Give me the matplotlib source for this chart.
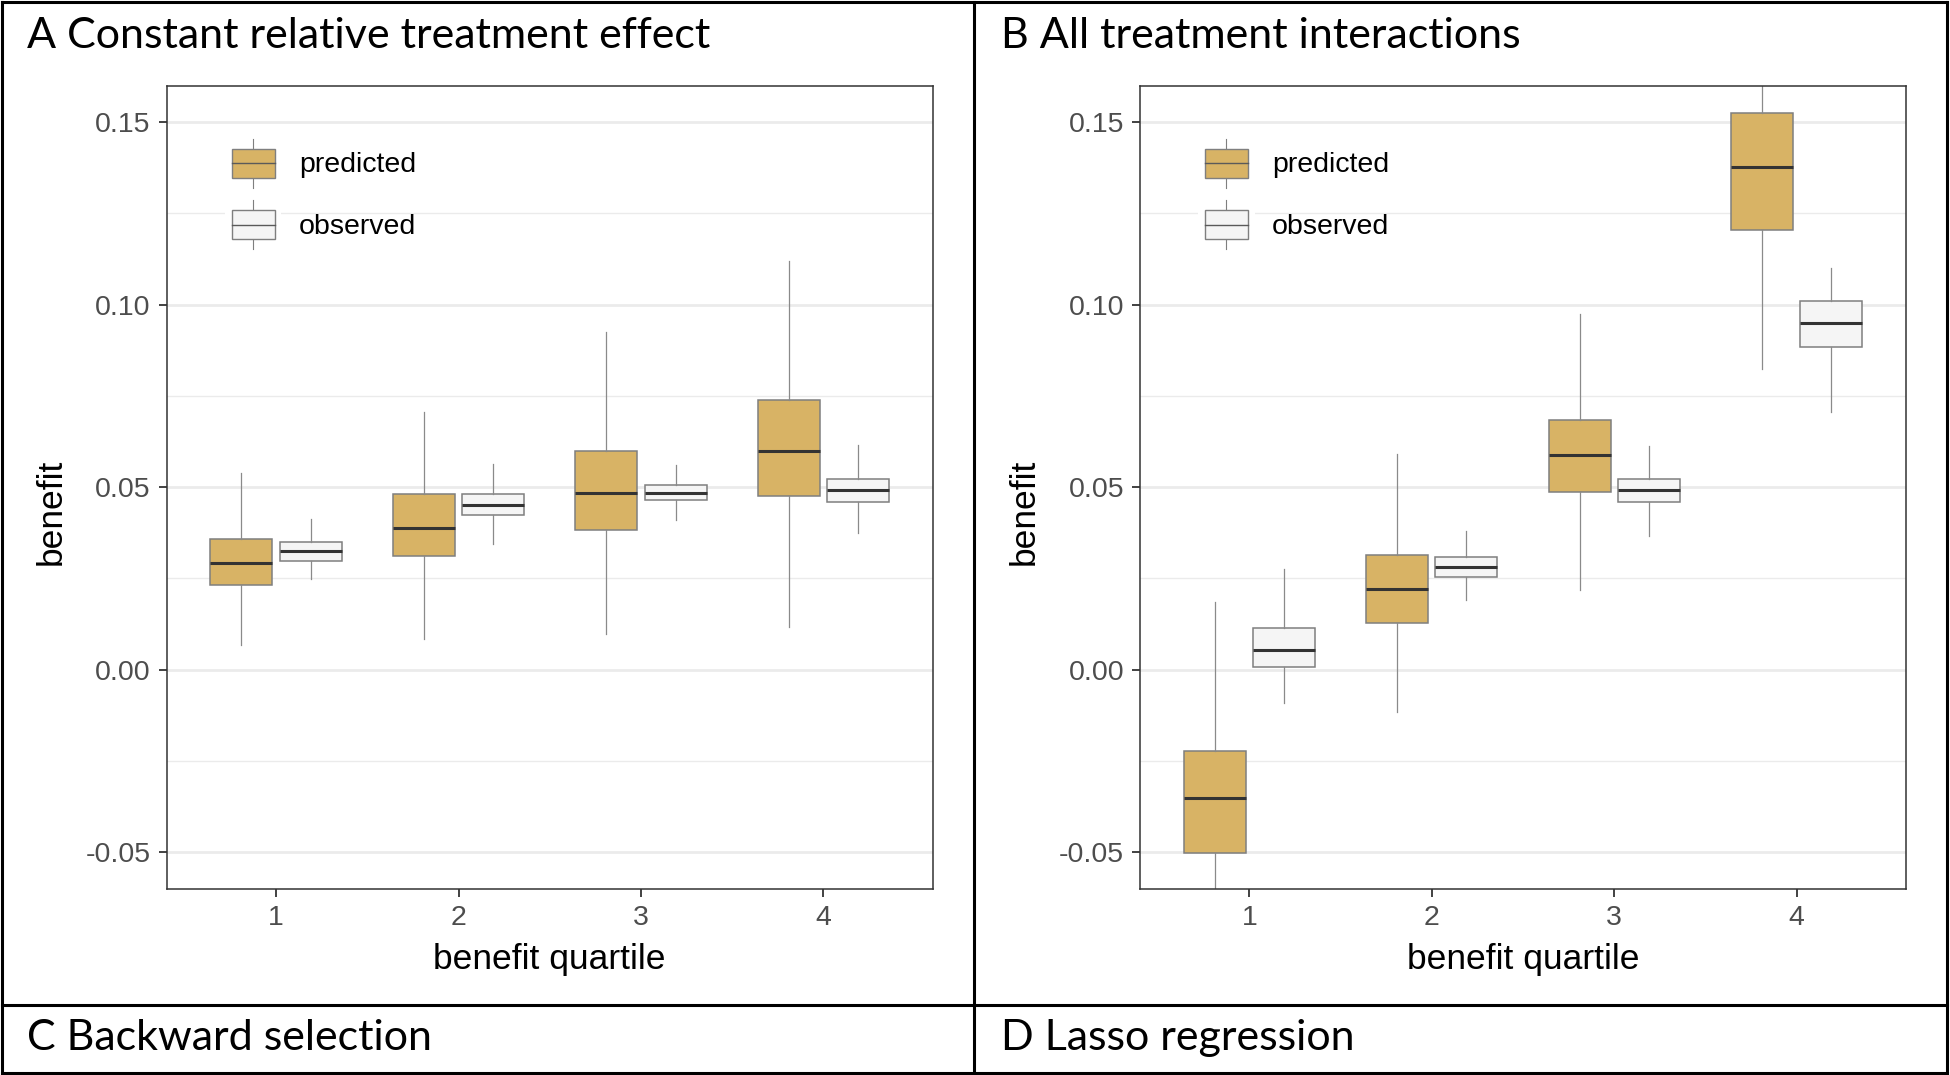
import matplotlib
matplotlib.use("Agg")
import matplotlib.pyplot as plt
from matplotlib.lines import Line2D
from matplotlib.patches import Rectangle, Patch
from matplotlib.legend_handler import HandlerBase
from matplotlib.ticker import FormatStrFormatter

quartiles = [1, 2, 3, 4]
series_names = ["predicted", "observed"]
panel_titles = ["A Constant relative treatment effect", "B All treatment interactions",
                "C Backward selection", "D Lasso regression"]

# each row: [whisker low, q1, median, q3, whisker high] for quartile 1..4
a_predicted = [[0.0067, 0.0232, 0.0292, 0.0358, 0.0540],
               [0.0083, 0.0312, 0.0389, 0.0480, 0.0706],
               [0.0098, 0.0382, 0.0483, 0.0599, 0.0925],
               [0.0117, 0.0477, 0.0598, 0.0739, 0.1119]]
a_observed = [[0.0248, 0.0299, 0.0326, 0.0350, 0.0413],
              [0.0343, 0.0425, 0.0450, 0.0481, 0.0563],
              [0.0411, 0.0466, 0.0485, 0.0506, 0.0561],
              [0.0374, 0.0459, 0.0492, 0.0522, 0.0615]]
b_predicted = [[-0.0680, -0.0503, -0.0353, -0.0223, 0.0185],
               [-0.0117, 0.0127, 0.0221, 0.0315, 0.0592],
               [0.0217, 0.0487, 0.0587, 0.0684, 0.0973],
               [0.0825, 0.1205, 0.1377, 0.1524, 0.1720]]
b_observed = [[-0.0092, 0.0006, 0.0054, 0.0115, 0.0277],
              [0.0190, 0.0254, 0.0280, 0.0308, 0.0379],
              [0.0365, 0.0458, 0.0493, 0.0522, 0.0613],
              [0.0706, 0.0883, 0.0951, 0.1009, 0.1100]]

tan = "#D8B365"
light = "#F5F5F5"
edge = "#7f7f7f"

plt.rcParams["font.family"] = ["Liberation Sans", "DejaVu Sans"]

W, H = 1950, 1075
fig = plt.figure(figsize=(W / 100, H / 100), dpi=100)


def px(x, y):
    return x / W, 1 - y / H


class BoxHandler(HandlerBase):
    # draws a little boxplot glyph like the ggplot legend key
    def create_artists(self, legend, orig_handle, xdescent, ydescent,
                       width, height, fontsize, trans):
        x0, y0 = -xdescent, -ydescent
        cx, cy = x0 + width / 2, y0 + height / 2
        bh = height * 0.6
        bg = Rectangle((x0 - 5, y0 - 2), width + 10, height + 4,
                       facecolor="white", edgecolor="none", transform=trans)
        box = Rectangle((x0, cy - bh / 2), width, bh, facecolor=orig_handle.get_facecolor(),
                        edgecolor=edge, lw=1.0, transform=trans)
        med = Line2D([x0, x0 + width], [cy, cy], color="#5a5a5a", lw=1.0, transform=trans)
        w1 = Line2D([cx, cx], [y0, cy - bh / 2], color=edge, lw=0.8, transform=trans)
        w2 = Line2D([cx, cx], [cy + bh / 2, y0 + height], color=edge, lw=0.8, transform=trans)
        return [bg, w1, w2, box, med]


def stats(rows):
    return [dict(whislo=r[0], q1=r[1], med=r[2], q3=r[3], whishi=r[4], fliers=[]) for r in rows]


def draw_panel(ax, predicted, observed):
    for rows, color, shift in ((predicted, tan, -0.19), (observed, light, 0.19)):
        ax.bxp(stats(rows), positions=[q + shift for q in quartiles], widths=0.34,
               patch_artist=True, showcaps=False, showfliers=False, manage_ticks=False,
               boxprops=dict(facecolor=color, edgecolor=edge, linewidth=1.1),
               medianprops=dict(color="#333333", linewidth=2.2, solid_capstyle="butt"),
               whiskerprops=dict(color="#8a8a8a", linewidth=0.9))
    ax.set_xlim(0.40, 4.60)
    ax.set_ylim(-0.0601, 0.1599)
    ax.set_xticks(quartiles)
    ax.set_yticks([-0.05, 0.0, 0.05, 0.10, 0.15])
    ax.set_yticks([-0.025, 0.025, 0.075, 0.125], minor=True)
    ax.yaxis.set_major_formatter(FormatStrFormatter("%.2f"))
    ax.set_axisbelow(True)
    ax.grid(axis="y", which="major", color="#EBEBEB", lw=2.0)
    ax.grid(axis="y", which="minor", color="#EBEBEB", lw=1.0)
    ax.grid(axis="x", visible=False)
    for s in ax.spines.values():
        s.set_color("#333333")
        s.set_linewidth(1.1)
    ax.tick_params(which="major", length=5.5, width=1.3, color="#333333",
                   labelcolor="#4D4D4D", labelsize=20.5, pad=6)
    ax.tick_params(which="minor", length=0)
    ax.set_xlabel("benefit quartile", fontsize=25.5, labelpad=9)
    ax.set_ylabel("benefit", fontsize=25.5)
    ax.yaxis.set_label_coords(-0.151, 0.47)
    ax.yaxis.label.set_verticalalignment("center")
    handles = [Patch(facecolor=tan), Patch(facecolor=light)]
    ax.legend(handles, series_names, handler_map={Patch: BoxHandler()},
              loc="upper left", bbox_to_anchor=(0.085, 0.934), frameon=False,
              fontsize=20.5, handlelength=1.5, handleheight=2.25, labelspacing=0.45,
              handletextpad=0.85, borderpad=0, borderaxespad=0)


ax_a = fig.add_axes([166.7 / W, 1 - 889 / H, 766 / W, 803 / H])
ax_b = fig.add_axes([1140 / W, 1 - 889 / H, 766 / W, 803 / H])
draw_panel(ax_a, a_predicted, a_observed)
draw_panel(ax_b, b_predicted, b_observed)

# table frame around the panels
lines = [((2, 2), (1947, 2)), ((2, 1073), (1947, 1073)), ((2, 2), (2, 1073)),
         ((1947, 2), (1947, 1073)), ((974, 2), (974, 1073)), ((2, 1005), (1947, 1005))]
for (xa, ya), (xb, yb) in lines:
    (fx0, fy0), (fx1, fy1) = px(xa, ya), px(xb, yb)
    fig.add_artist(Line2D([fx0, fx1], [fy0, fy1], transform=fig.transFigure,
                          color="black", lw=2.2))

title_pos = [(27, 48), (1001, 48), (27, 1050), (1001, 1050)]
for t, (x, y) in zip(panel_titles, title_pos):
    fx, fy = px(x, y)
    fig.text(fx, fy, t, fontsize=31, family=["Lato", "DejaVu Sans"], va="baseline", ha="left")

fig.savefig("out.png", dpi=100)
